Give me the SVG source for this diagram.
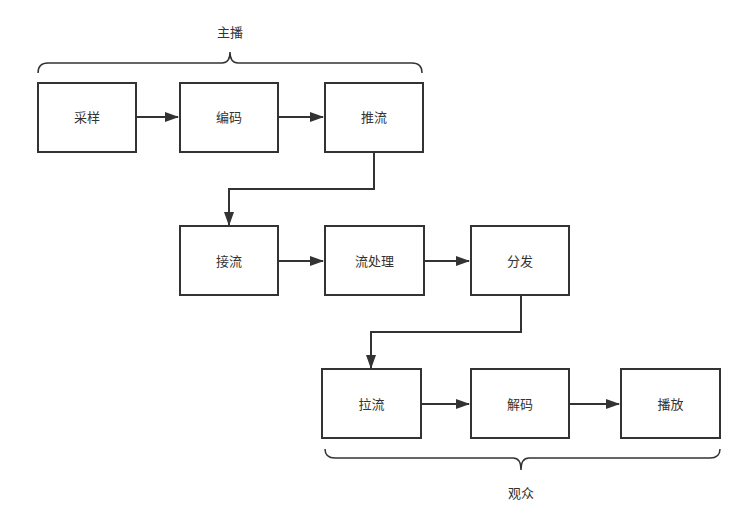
<svg xmlns="http://www.w3.org/2000/svg" width="750" height="520" viewBox="0 0 750 520">
<style>
.box{fill:#fff;stroke:#333;stroke-width:2}
.t{font-family:"Liberation Sans","Noto Sans CJK SC",sans-serif;font-size:13px;fill:#333;text-anchor:middle;dominant-baseline:central}
.c{fill:none;stroke:#333;stroke-width:2}
.br{fill:none;stroke:#333;stroke-width:1.5}
</style>
<defs>
<marker id="a" markerWidth="14" markerHeight="10" refX="13" refY="5" orient="auto" markerUnits="userSpaceOnUse">
<path d="M0,0 L14,5 L0,10 Z" fill="#333"/>
</marker>
</defs>
<rect width="750" height="520" fill="#fff"/>
<g id="brace-top">
<path class="br" d="M38,73 Q38,63 48,63 L222,63 Q230,63 230,52 Q230,63 238,63 L412,63 Q422,63 422,73"/>
<text class="t" x="230" y="32">主播</text>
</g>
<g id="brace-bottom">
<path class="br" d="M325,449 Q325,458 335,458 L513,458 Q521,458 521,470 Q521,458 529,458 L710,458 Q720,458 720,449"/>
<text class="t" x="521" y="493">观众</text>
</g>
<g id="connectors">
<path class="c" marker-end="url(#a)" d="M137,117 L178,117"/>
<path class="c" marker-end="url(#a)" d="M279,117 L323,117"/>
<path class="c" marker-end="url(#a)" d="M374,153 L374,189 L229,189 L229,225"/>
<path class="c" marker-end="url(#a)" d="M279,261 L323,261"/>
<path class="c" marker-end="url(#a)" d="M425,261 L469,261"/>
<path class="c" marker-end="url(#a)" d="M521,296 L521,332 L371,332 L371,368"/>
<path class="c" marker-end="url(#a)" d="M422,404 L469,404"/>
<path class="c" marker-end="url(#a)" d="M570,404 L619,404"/>
</g>
<g id="n1"><rect class="box" x="38" y="83" width="98" height="69"/><text class="t" x="87" y="117.5">采样</text></g>
<g id="n2"><rect class="box" x="180" y="83" width="98" height="69"/><text class="t" x="229" y="117.5">编码</text></g>
<g id="n3"><rect class="box" x="325" y="83" width="98" height="69"/><text class="t" x="374" y="117.5">推流</text></g>
<g id="n4"><rect class="box" x="180" y="226" width="98" height="69"/><text class="t" x="229" y="261">接流</text></g>
<g id="n5"><rect class="box" x="325" y="226" width="99" height="69"/><text class="t" x="374.5" y="261">流处理</text></g>
<g id="n6"><rect class="box" x="471" y="226" width="98" height="69"/><text class="t" x="520" y="261">分发</text></g>
<g id="n7"><rect class="box" x="322" y="369" width="99" height="69"/><text class="t" x="371.5" y="404">拉流</text></g>
<g id="n8"><rect class="box" x="471" y="369" width="98" height="69"/><text class="t" x="520" y="404">解码</text></g>
<g id="n9"><rect class="box" x="621" y="369" width="99" height="69"/><text class="t" x="670.5" y="404">播放</text></g>
</svg>
